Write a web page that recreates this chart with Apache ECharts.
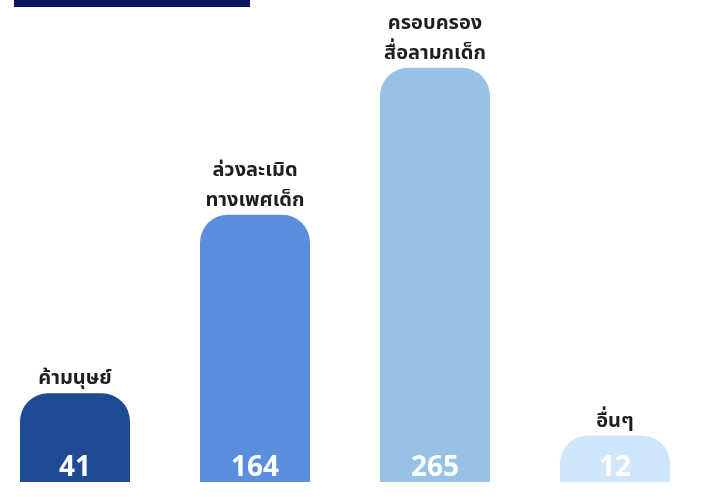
<!DOCTYPE html>
<html>
<head>
<meta charset="utf-8">
<script src="https://cdn.jsdelivr.net/npm/echarts@6/dist/echarts.min.js"></script>
<style>
    html, body { margin: 0; padding: 0; background: #fff; }
    #chart { width: 704px; height: 497px; }
</style>
</head>
<body>
<div id="chart"></div>
<script>
const categories = ['ค้ามนุษย์', 'ล่วงละเมิด\nทางเพศเด็ก', 'ครอบครอง\nสื่อลามกเด็ก', 'อื่นๆ']
const values = [41, 164, 265, 12]
const barColors = ['#1f4a94', '#5b8fdd', '#98c1e6', '#cfe6fb']

const chart = echarts.init(document.getElementById('chart'))

chart.setOption({
    backgroundColor: '#ffffff',
    animation: false,
    graphic: [
        // dark title strip cut off at the top
        { type: 'rect', left: 14, top: 0, shape: { width: 236, height: 7 }, style: { fill: '#0a1560' } }
    ],
    grid: { left: 75, right: 89, top: 17, bottom: 15 },
    xAxis: {
        type: 'category',
        data: categories,
        boundaryGap: false,
        axisLine: { show: false },
        axisTick: { show: false },
        axisLabel: { show: false }
    },
    yAxis: {
        type: 'value',
        min: -20,
        max: 300,
        startValue: -20,
        show: false,
        splitLine: { show: false }
    },
    series: [
        {
            type: 'bar',
            barWidth: 110,
            data: values.map((v, i) => ({
                value: v,
                itemStyle: { color: barColors[i], borderRadius: [28, 28, 0, 0] }
            })),
            label: {
                show: true,
                position: 'insideBottom',
                distance: 0,
                formatter: '{c}',
                color: '#ffffff',
                fontSize: 28,
                fontWeight: 'bold',
                fontFamily: 'Open Sans'
            },
            labelLayout: { hideOverlap: false }
        },
        {
            // category captions above each bar
            type: 'bar',
            barWidth: 110,
            barGap: '-100%',
            silent: true,
            itemStyle: { color: 'transparent' },
            data: values,
            label: {
                show: true,
                position: 'top',
                distance: -2,
                formatter: p => categories[p.dataIndex],
                color: '#1e1e1e',
                fontSize: 20,
                fontWeight: 'bold',
                lineHeight: 30,
                fontFamily: '"Noto Sans Thai", "Noto Sans", sans-serif'
            }
        }
    ]
})
</script>
</body>
</html>
